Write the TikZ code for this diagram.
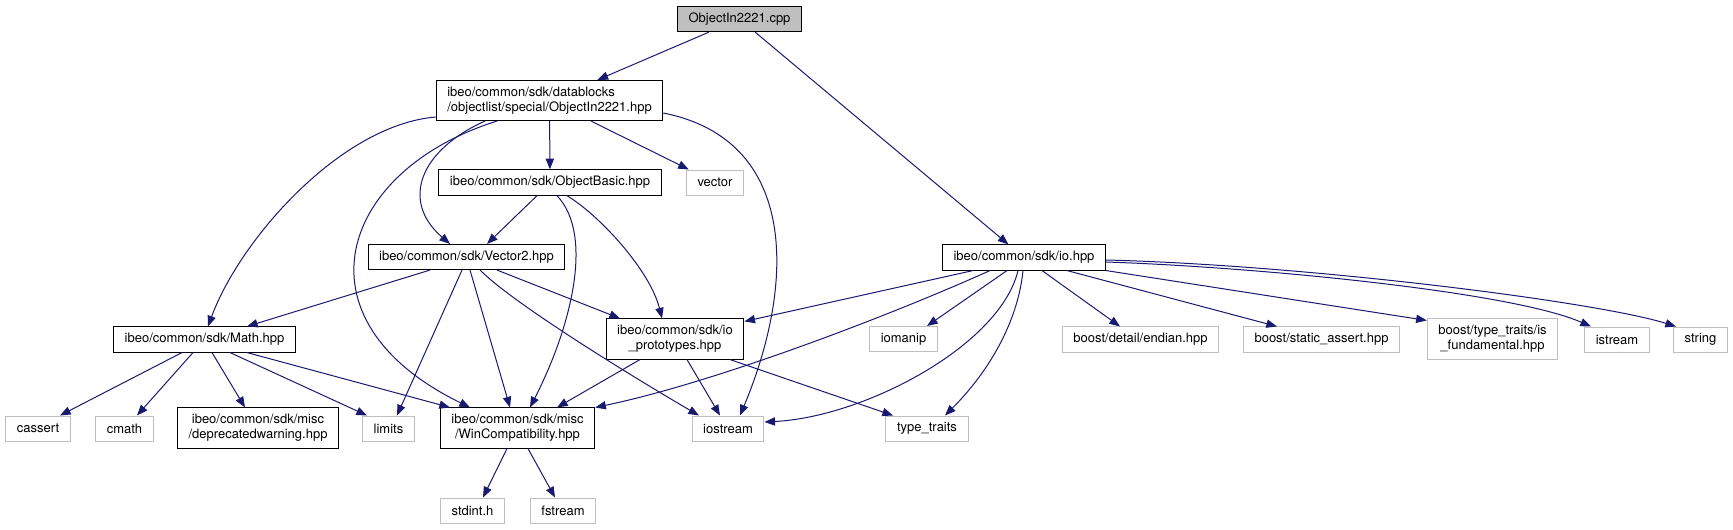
\documentclass[tikz,border=0pt]{standalone}
\usepackage{fontspec}
\setmainfont{TeX Gyre Heros}
\usetikzlibrary{arrows.meta,calc}
\definecolor{EdgeBlue}{HTML}{191970}
\definecolor{RootGray}{HTML}{BFBFBF}
\definecolor{ExtGray}{HTML}{BFBFBF}

\begin{document}
\begin{tikzpicture}[x=0.75pt,y=-0.75pt,
  font=\fontsize{9.75}{11.25}\selectfont,
  filebox/.style={draw=black,fill=white,line width=0.75pt,inner xsep=8.3pt,
    inner ysep=4.8pt,minimum height=18.75pt,align=center},
  sysbox/.style={filebox,draw=ExtGray},
  rootbox/.style={filebox,fill=RootGray},
  dep/.style={EdgeBlue,line width=0.75pt,-{Triangle[length=8pt,width=6.2pt]}}]
  \useasboundingbox (0,0) rectangle (1733,529);

  \node[rootbox] (cpp) at (739.5,19) {ObjectIn2221.cpp};
  \node[filebox,align=left] (hpp) at (549.5,100.5)
    {ibeo/common/sdk/datablocks\\/objectlist/special/ObjectIn2221.hpp};
  \node[filebox] (basic) at (550,182.5) {ibeo/common/sdk/ObjectBasic.hpp};
  \node[sysbox] (vector) at (715,182.5) {vector};
  \node[filebox] (vec2) at (466.5,257) {ibeo/common/sdk/Vector2.hpp};
  \node[filebox] (io) at (1024,257.5) {ibeo/common/sdk/io.hpp};
  \node[filebox] (math) at (204.5,339.5) {ibeo/common/sdk/Math.hpp};
  \node[filebox] (proto) at (675,339) {ibeo/common/sdk/io\\\_prototypes.hpp};
  \node[sysbox] (iomanip) at (903.5,339) {iomanip};
  \node[sysbox] (endian) at (1140.5,339.5) {boost/detail/endian.hpp};
  \node[sysbox] (sassert) at (1321.5,339.5) {boost/static\_assert.hpp};
  \node[sysbox] (isfund) at (1492.5,339) {boost/type\_traits/is\\\_fundamental.hpp};
  \node[sysbox] (istream) at (1617,339.5) {istream};
  \node[sysbox] (string) at (1700.5,339.5) {string};
  \node[sysbox] (cassert) at (38,428.5) {cassert};
  \node[sysbox] (cmath) at (124.5,428.5) {cmath};
  \node[filebox] (deprec) at (258,428) {ibeo/common/sdk/misc\\/deprecatedwarning.hpp};
  \node[sysbox] (limits) at (388.5,428.5) {limits};
  \node[filebox] (wincompat) at (517.5,428) {ibeo/common/sdk/misc\\/WinCompatibility.hpp};
  \node[sysbox] (iostream) at (728,428.5) {iostream};
  \node[sysbox] (typetraits) at (927,428.5) {type\_traits};
  \node[sysbox] (stdint) at (472.5,510.5) {stdint.h};
  \node[sysbox] (fstream) at (563,510.5) {fstream};

  \draw[dep] (cpp) -- (hpp);
  \draw[dep] (cpp) -- (io);
  \draw[dep] (hpp) -- (basic);
  \draw[dep] (hpp) -- (vector);
  \foreach \a/\sa/\b/\sb in {math/-22.5/cassert/22, math/-11.5/cmath/12.5,
      math/7.5/deprec/-13, math/25.5/limits/-21.5, math/42.5/wincompat/-67.5,
      vec2/-36.5/math/42.5, vec2/-4.5/limits/8.5, vec2/3.5/wincompat/-7.5,
      vec2/30.5/proto/-55, basic/-13/vec2/20.5, wincompat/-10.5/stdint/10.5,
      wincompat/10.5/fstream/-8, proto/-35/wincompat/39.5, proto/12/iostream/-8,
      proto/55/typetraits/-34, io/-17/iomanip/23.5, io/18/endian/-20.5,
      io/43/sassert/-44.5} {
    \draw[dep] ($(\a.south)+(\sa,0)$) -- ($(\b.north)+(\sb,0)$);
  }
  \draw[dep] ($(hpp.west)+(0,16.5)$) .. controls +(-95,8) and +(32,-87) .. ($(math.north)+(3.5,0)$);
  \draw[dep] ($(hpp.south)+(-64.5,0)$) .. controls +(-65,29) and +(-50,-43) .. ($(vec2.north)+(-16.5,0)$);
  \draw[dep] ($(hpp.south)+(-52.5,0)$) .. controls +(-157,49) and +(-180,-88) .. ($(wincompat.north)+(-47.5,0)$);
  \draw[dep] ($(hpp.east)+(0,12.5)$) .. controls +(136,27) and +(55,-131) .. ($(iostream.north)+(12,0)$);
  \draw[dep] ($(basic.south)+(7,0)$) .. controls +(38,40) and +(40,-78) .. ($(wincompat.north)+(12.5,0)$);
  \draw[dep] ($(basic.south)+(17,0)$) .. controls +(33,20) and +(-12,-48) .. ($(proto.north)+(-13,0)$);
  \draw[dep] ($(vec2.south)+(13.5,0)$) .. controls +(35,35) and +(-60,-35) .. ($(iostream.north)+(-29,0)$);
  \draw[dep] ($(io.south)+(-51,0)$) -- ($(proto.north east)+(0,3)$);
  \draw[dep] ($(io.south)+(-34,0)$) .. controls +(-100,45) and +(120,-25) .. (wincompat.north east);
  \draw[dep] ($(io.south)+(-6,0)$) .. controls +(-18,75) and +(100,-5) .. ($(iostream.east)+(0,-6.5)$);
  \draw[dep] ($(io.south)+(-1,0)$) .. controls +(-5,50) and +(45,-45) .. ($(typetraits.north)+(18,0)$);
  \draw[dep] (io.south east) -- ($(isfund.north west)+(0,2)$);
  \draw[dep] ($(io.east)+(0,4.5)$) .. controls +(150,5) and +(-80,-35) .. ($(istream.north)+(-26,0)$);
  \draw[dep] ($(io.east)+(0,2.5)$) .. controls +(200,5) and +(-80,-25) .. ($(string.north)+(-24.5,0)$);
\end{tikzpicture}
\end{document}
